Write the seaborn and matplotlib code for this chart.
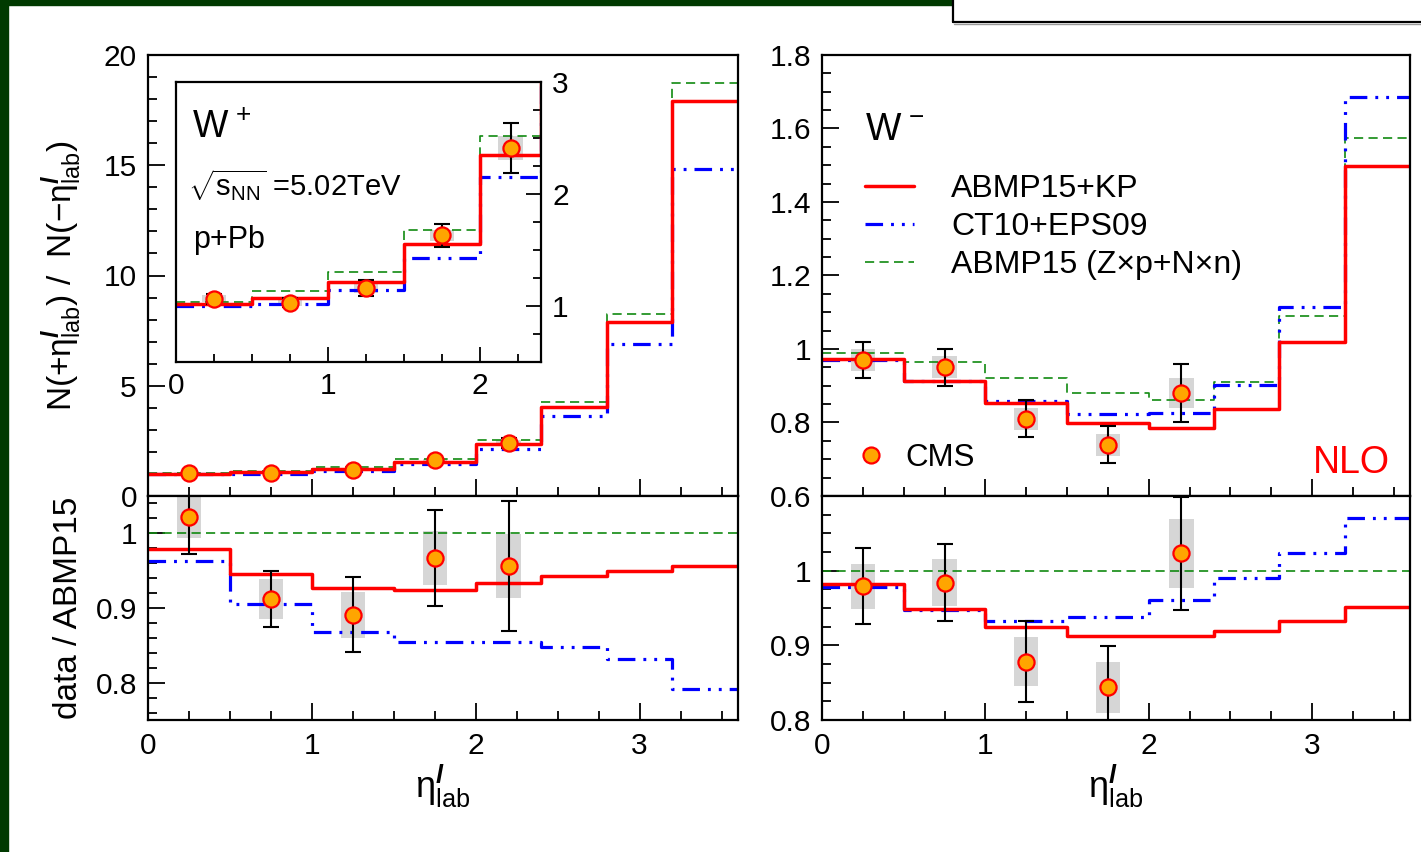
import numpy as np
import pandas as pd
import matplotlib
matplotlib.use("Agg")
import matplotlib.pyplot as plt
import seaborn as sns
from matplotlib.ticker import MultipleLocator, FuncFormatter, FixedLocator
from matplotlib.lines import Line2D
from matplotlib.patches import Rectangle

# ---------------- data ----------------
edges = [0.0, 0.5, 1.0, 1.5, 2.0, 2.4, 2.8, 3.2, 3.6]
x_data = [0.25, 0.75, 1.25, 1.75, 2.2]

# W+ : N(+eta)/N(-eta)
wp_abmp_kp = [1.015, 1.07, 1.21, 1.556, 2.35, 4.04, 7.89, 17.9]
wp_ct10 = [1.00, 1.02, 1.14, 1.43, 2.15, 3.65, 6.9, 14.83]
wp_abmp_zn = [1.04, 1.13, 1.30, 1.68, 2.52, 4.25, 8.25, 18.73]
wp_cms = [1.065, 1.03, 1.16, 1.63, 2.41]
wp_cms_stat = [0.045, 0.043, 0.068, 0.105, 0.22]
wp_cms_sys = [0.03, 0.03, 0.04, 0.05, 0.11]

# W+ : data / ABMP15
wp_r_abmp_kp = [0.979, 0.946, 0.927, 0.924, 0.933, 0.943, 0.950, 0.956]
wp_r_ct10 = [0.963, 0.906, 0.868, 0.854, 0.854, 0.848, 0.832, 0.792]
wp_r_abmp_zn = [1.0, 1.0, 1.0, 1.0, 1.0, 1.0, 1.0, 1.0]
wp_r_cms = [1.022, 0.912, 0.891, 0.967, 0.956]
wp_r_cms_stat = [0.05, 0.038, 0.050, 0.064, 0.087]
wp_r_cms_sys = [0.028, 0.027, 0.031, 0.036, 0.043]

# W- : N(+eta)/N(-eta)
wm_abmp_kp = [0.972, 0.914, 0.854, 0.799, 0.785, 0.837, 1.018, 1.497]
wm_ct10 = [0.970, 0.913, 0.858, 0.823, 0.827, 0.901, 1.115, 1.686]
wm_abmp_zn = [0.990, 0.964, 0.922, 0.879, 0.860, 0.911, 1.090, 1.574]
wm_cms = [0.970, 0.950, 0.810, 0.740, 0.880]
wm_cms_stat = [0.050, 0.050, 0.050, 0.050, 0.080]
wm_cms_sys = [0.030, 0.030, 0.030, 0.030, 0.040]

# W- : data / ABMP15
wm_r_abmp_kp = [0.982, 0.949, 0.924, 0.912, 0.912, 0.919, 0.933, 0.951]
wm_r_ct10 = [0.978, 0.947, 0.932, 0.938, 0.961, 0.990, 1.023, 1.070]
wm_r_abmp_zn = [1.0, 1.0, 1.0, 1.0, 1.0, 1.0, 1.0, 1.0]
wm_r_cms = [0.979, 0.984, 0.878, 0.844, 1.023]
wm_r_cms_stat = [0.051, 0.052, 0.054, 0.055, 0.076]
wm_r_cms_sys = [0.030, 0.031, 0.033, 0.034, 0.046]

legend_labels = ["ABMP15+KP", "CT10+EPS09", "ABMP15 (Z\u00d7p+N\u00d7n)"]

# ---------------- style ----------------
sns.set_style("ticks")
plt.rcParams["font.family"] = ["Liberation Sans", "DejaVu Sans"]
plt.rcParams["mathtext.fontset"] = "custom"
plt.rcParams["mathtext.rm"] = "Liberation Sans"
plt.rcParams["mathtext.it"] = "Liberation Sans:italic"
plt.rcParams["mathtext.bf"] = "Liberation Sans:bold"
plt.rcParams["mathtext.bfit"] = "Liberation Sans:italic:bold"
plt.rcParams["mathtext.default"] = "regular"
for k in ["text.color", "axes.labelcolor", "xtick.color", "ytick.color",
          "axes.edgecolor"]:
    plt.rcParams[k] = "black"

RED = "#ff0000"
BLUE = "#0000ff"
GREEN = "#118a11"
STY_RED = dict(color=RED, lw=2.5, linestyle="-")
STY_BLUE = dict(color=BLUE, lw=2.3, linestyle=(0, (5.5, 2.5, 0.9, 2.5, 0.9, 2.5)))
STY_GREEN = dict(color=GREEN, lw=1.2, linestyle=(0, (5.5, 3.2)))

ETA = r"\eta^{\mathbfit{l}}_{lab}"

W, H = 1421, 852
fig = plt.figure(figsize=(W / 100, H / 100), dpi=100)


def fx(px):
    return px / W


def fy(py):
    return 1 - py / H


def axes_px(x0, y0, x1, y1):
    return fig.add_axes([fx(x0), fy(y1), fx(x1 - x0), (y1 - y0) / H])


ax_tl = axes_px(148, 55, 738, 496)
ax_bl = axes_px(148, 496, 738, 720)
ax_tr = axes_px(822, 55, 1410, 496)
ax_br = axes_px(822, 496, 1410, 720)
ax_in = axes_px(176, 82, 541, 362)

fmt = FuncFormatter(lambda v, p: f"{v:g}")


def steps(ax, vals, sty):
    df = pd.DataFrame({"x": edges, "y": list(vals) + [vals[-1]]})
    sns.lineplot(data=df, x="x", y="y", ax=ax, drawstyle="steps-post",
                 errorbar=None, sort=False, legend=False, zorder=2, **sty)


def points(ax, y, stat, sys, width=0.15):
    y = np.array(y)
    sys = np.array(sys)
    ax.bar(x_data, 2 * sys, bottom=y - sys, width=width, color="#d6d6d6",
           zorder=1, linewidth=0)
    ax.errorbar(x_data, y, yerr=stat, fmt="none", ecolor="black",
                elinewidth=1.5, capsize=6, capthick=1.5, zorder=4)
    sns.scatterplot(x=x_data, y=y, ax=ax, s=135, color="#ffa500",
                    edgecolor=RED, linewidth=1.6, zorder=5, legend=False)


def style_axis(ax, ymaj, ymin, ylim, yticks=None, xlabels=True, size=21.5):
    ax.set_xlim(0, 3.6)
    ax.set_ylim(*ylim)
    ax.xaxis.set_major_locator(MultipleLocator(1))
    ax.xaxis.set_minor_locator(MultipleLocator(0.25))
    if yticks is None:
        ax.yaxis.set_major_locator(MultipleLocator(ymaj))
    else:
        ax.yaxis.set_major_locator(FixedLocator(yticks))
    ax.yaxis.set_minor_locator(MultipleLocator(ymin))
    ax.xaxis.set_major_formatter(fmt)
    ax.yaxis.set_major_formatter(fmt)
    ax.tick_params(which="both", direction="in", top=False, right=False,
                   left=True, bottom=True, width=1.3, labelsize=size,
                   color="black", labelcolor="black")
    ax.tick_params(which="major", length=12)
    ax.tick_params(which="minor", length=6.5)
    ax.tick_params(axis="y", pad=8)
    ax.tick_params(axis="x", pad=9)
    if not xlabels:
        ax.tick_params(axis="x", labelbottom=False)
    for s in ax.spines.values():
        s.set_linewidth(1.6)
        s.set_color("black")
    ax.set_xlabel("")
    ax.set_ylabel("")


# ---------- top-left (W+) ----------
steps(ax_tl, wp_abmp_zn, STY_GREEN)
steps(ax_tl, wp_ct10, STY_BLUE)
steps(ax_tl, wp_abmp_kp, STY_RED)
points(ax_tl, wp_cms, wp_cms_stat, wp_cms_sys)
style_axis(ax_tl, 5, 1, (0, 20), xlabels=False)
ax_tl.set_ylabel("N(+$" + ETA + "$) /  N($-" + ETA + "$)", fontsize=24)
ax_tl.yaxis.set_label_coords(-0.108, 0.5)

# inset
ax_in.set_facecolor("white")
ax_in.set_zorder(10)
steps(ax_in, wp_abmp_zn, STY_GREEN)
steps(ax_in, wp_ct10, STY_BLUE)
steps(ax_in, wp_abmp_kp, STY_RED)
points(ax_in, wp_cms, wp_cms_stat, wp_cms_sys, width=0.16)
ax_in.set_xlim(0, 2.4)
ax_in.set_ylim(0.5, 3)
ax_in.xaxis.set_major_locator(MultipleLocator(1))
ax_in.xaxis.set_minor_locator(MultipleLocator(0.25))
ax_in.yaxis.set_major_locator(MultipleLocator(1))
ax_in.yaxis.set_minor_locator(MultipleLocator(0.25))
ax_in.xaxis.set_major_formatter(fmt)
ax_in.yaxis.set_major_formatter(fmt)
ax_in.tick_params(which="both", direction="in", top=False, left=False,
                  right=True, bottom=True, labelleft=False, labelright=True,
                  width=1.3, labelsize=21.5, color="black", labelcolor="black")
ax_in.tick_params(which="major", length=11)
ax_in.tick_params(which="minor", length=6)
ax_in.tick_params(axis="y", pad=8)
ax_in.tick_params(axis="x", pad=7)
for s in ax_in.spines.values():
    s.set_linewidth(1.6)
    s.set_color("black")
ax_in.set_xlabel("")
ax_in.set_ylabel("")
ax_in.text(0.045, 0.836, r"W$^{\,+}$", transform=ax_in.transAxes, fontsize=27,
           ha="left", va="center")
ax_in.text(0.033, 0.632, r"$\sqrt{s_{NN}}$ =5.02TeV", transform=ax_in.transAxes,
           fontsize=21, ha="left", va="center")
ax_in.text(0.047, 0.436, "p+Pb", transform=ax_in.transAxes, fontsize=22,
           ha="left", va="center")

# ---------- bottom-left ----------
steps(ax_bl, wp_r_abmp_zn, STY_GREEN)
steps(ax_bl, wp_r_ct10, STY_BLUE)
steps(ax_bl, wp_r_abmp_kp, STY_RED)
points(ax_bl, wp_r_cms, wp_r_cms_stat, wp_r_cms_sys)
style_axis(ax_bl, 0.1, 0.02, (0.75, 1.05), yticks=[0.8, 0.9, 1.0])
ax_bl.set_ylabel("data / ABMP15", fontsize=24)
ax_bl.yaxis.set_label_coords(-0.108, 0.5)
ax_bl.set_xlabel("$" + ETA + "$", fontsize=26)
ax_bl.xaxis.set_label_coords(0.5, -0.19)

# ---------- top-right (W-) ----------
steps(ax_tr, wm_abmp_zn, STY_GREEN)
steps(ax_tr, wm_ct10, STY_BLUE)
steps(ax_tr, wm_abmp_kp, STY_RED)
points(ax_tr, wm_cms, wm_cms_stat, wm_cms_sys)
style_axis(ax_tr, 0.2, 0.05, (0.6, 1.8), xlabels=False)
ax_tr.text(0.073, 0.83, r"W$^{\,-}$", transform=ax_tr.transAxes, fontsize=27,
           ha="left", va="center")
ax_tr.text(0.966, 0.074, "NLO", transform=ax_tr.transAxes, fontsize=27,
           ha="right", va="center", color=RED)
handles = [Line2D([], [], **STY_RED), Line2D([], [], **STY_BLUE),
           Line2D([], [], **STY_GREEN)]
leg = ax_tr.legend(handles, legend_labels, loc="upper left",
                   bbox_to_anchor=(0.073, 0.73), frameon=False, fontsize=23,
                   handlelength=1.55, handletextpad=1.15, labelspacing=0.25,
                   borderpad=0, borderaxespad=0)
ax_tr.add_artist(leg)
cms_h = Line2D([], [], marker="o", linestyle="none", markersize=11.5,
               markerfacecolor="#ffa500", markeredgecolor=RED, markeredgewidth=1.6)
ax_tr.legend([cms_h], ["CMS"], loc="center left", bbox_to_anchor=(0.057, 0.086),
             frameon=False, fontsize=22.5, handlelength=1.0, handletextpad=0.6,
             borderpad=0, borderaxespad=0)

# ---------- bottom-right ----------
steps(ax_br, wm_r_abmp_zn, STY_GREEN)
steps(ax_br, wm_r_ct10, STY_BLUE)
steps(ax_br, wm_r_abmp_kp, STY_RED)
points(ax_br, wm_r_cms, wm_r_cms_stat, wm_r_cms_sys)
style_axis(ax_br, 0.1, 0.025, (0.8, 1.1), yticks=[0.8, 0.9, 1.0])
ax_br.set_xlabel("$" + ETA + "$", fontsize=26)
ax_br.xaxis.set_label_coords(0.5, -0.19)

# ---------- frame decorations ----------
DKGREEN = "#003a00"
fig.add_artist(Rectangle((0, 0), fx(8), 1, transform=fig.transFigure,
                         color=DKGREEN, zorder=20))
fig.add_artist(Rectangle((0, fy(5)), fx(952), 5 / H, transform=fig.transFigure,
                         color=DKGREEN, zorder=20))
fig.add_artist(Line2D([fx(953), fx(953)], [1, fy(22)], transform=fig.transFigure,
                      color="black", lw=1.6, zorder=21))
fig.add_artist(Line2D([fx(953), 1], [fy(22), fy(22)], transform=fig.transFigure,
                      color="black", lw=1.6, zorder=21))
fig.add_artist(Line2D([fx(954), 1], [fy(23.6), fy(23.6)], transform=fig.transFigure,
                      color="#9a9a9a", lw=1.0, zorder=21))

fig.savefig("out.png", dpi=100)
